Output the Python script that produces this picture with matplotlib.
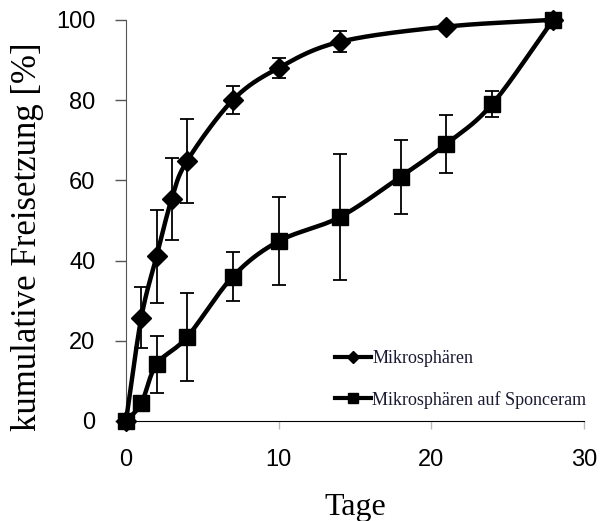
import numpy as np
import matplotlib.pyplot as plt
from matplotlib.lines import Line2D

# Mikrosphären
tage_m = [0, 1, 2, 3, 4, 7, 10, 14, 21, 28]
frei_m = [0, 25.7, 41, 55.4, 64.8, 80, 88, 94.5, 98.3, 100]
err_m = [0, 7.6, 11.6, 10.2, 10.5, 3.5, 2.6, 2.6, 0.5, 0]

# Mikrosphären auf Sponceram
tage_s = [0, 1, 2, 4, 7, 10, 14, 18, 21, 24, 28]
frei_s = [0, 4.4, 14.1, 20.9, 36, 44.8, 50.8, 60.9, 69.1, 79, 100]
err_s = [0, 0, 7.1, 11, 6.2, 11, 15.7, 9.2, 7.2, 3.3, 0]


def smooth(x, y, n=30):
    # Catmull-Rom curve through the points, like Excel's smoothed line
    x = np.asarray(x, float)
    y = np.asarray(y, float)
    px = np.concatenate([[2 * x[0] - x[1]], x, [2 * x[-1] - x[-2]]])
    py = np.concatenate([[2 * y[0] - y[1]], y, [2 * y[-1] - y[-2]]])
    xs, ys = [], []
    t = np.linspace(0, 1, n)
    for i in range(1, len(px) - 2):
        for arr, out in ((px, xs), (py, ys)):
            p0, p1, p2, p3 = arr[i - 1], arr[i], arr[i + 1], arr[i + 2]
            out.extend(0.5 * ((2 * p1) + (-p0 + p2) * t
                              + (2 * p0 - 5 * p1 + 4 * p2 - p3) * t ** 2
                              + (-p0 + 3 * p1 - 3 * p2 + p3) * t ** 3))
    return np.array(xs), np.array(ys)


fig = plt.figure(figsize=(6, 5.21), dpi=100)
ax = fig.add_axes([0.21, 0.192, 0.763, 0.770])

for x, y, e, mk, ms in ((tage_m, frei_m, err_m, 'D', 10), (tage_s, frei_s, err_s, 's', 12)):
    ax.errorbar(x, y, yerr=e, fmt='none', ecolor='black', elinewidth=1.3,
                capsize=5, capthick=1.3, clip_on=False, zorder=2)
    sx, sy = smooth(x, y)
    ax.plot(sx, sy, color='black', lw=3.2, clip_on=False, zorder=3)
    ax.plot(x, y, linestyle='none', marker=mk, ms=ms, color='black',
            clip_on=False, zorder=4)

ax.set_xlim(0, 30)
ax.set_ylim(0, 100)
ax.set_xticks([0, 10, 20, 30])
ax.set_yticks([0, 20, 40, 60, 80, 100])
for s in ('top', 'right'):
    ax.spines[s].set_visible(False)
ax.spines['left'].set_color('#555555')
ax.spines['bottom'].set_color('black')
ax.tick_params(axis='y', length=8, width=1, color='#555555', pad=14)
ax.tick_params(axis='x', length=6, width=1, color='#bbbbbb', pad=14)
for lab in ax.get_xticklabels() + ax.get_yticklabels():
    lab.set_fontfamily('Liberation Sans')
    lab.set_fontsize(17)

ax.set_xlabel('Tage', fontfamily='Liberation Serif', fontsize=23)
ax.xaxis.set_label_coords(0.5, -0.18)
ax.set_ylabel('kumulative Freisetzung [%]', fontfamily='Liberation Serif',
              fontsize=25)
ax.yaxis.set_label_coords(-0.18, 0.46)

handles = [Line2D([], [], color='black', lw=3, marker='D', ms=6),
           Line2D([], [], color='black', lw=3, marker='s', ms=7)]
ax.legend(handles, ['Mikrosphären', 'Mikrosphären auf Sponceram'],
          loc='lower left', bbox_to_anchor=(0.42, -0.01), frameon=False,
          handlelength=2.0, handletextpad=0.1, labelspacing=1.3,
          prop={'family': 'Liberation Serif', 'size': 13},
          labelcolor='#1a1a33')

fig.savefig('out.png', dpi=100)
